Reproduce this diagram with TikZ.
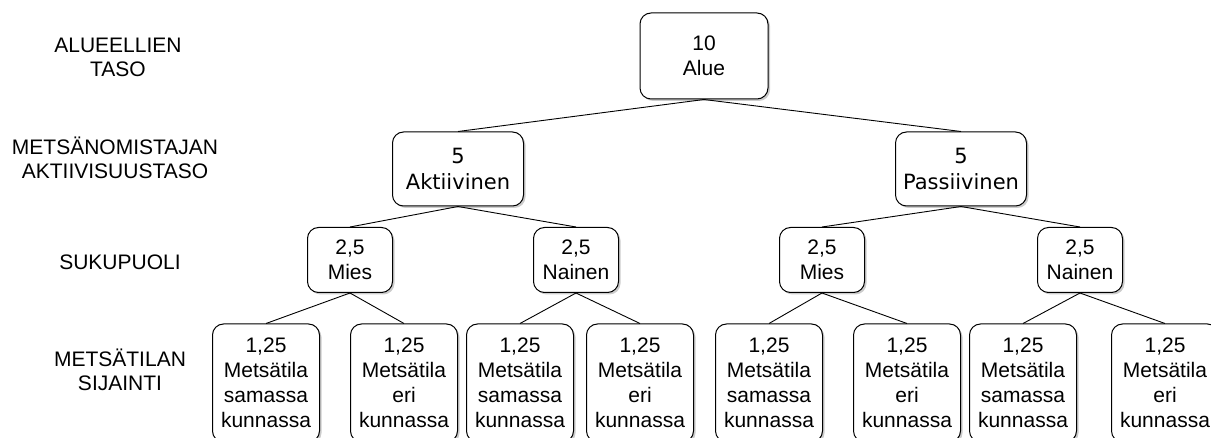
\documentclass[tikz,border=0pt]{standalone}
\usepackage{fontspec}
\setmainfont{Liberation Sans}
\newfontfamily\dejavu{DejaVu Sans}
\usetikzlibrary{shadows}
\definecolor{shade}{RGB}{170,170,170}

\begin{document}
\begin{tikzpicture}[x=1pt,y=-1pt,
	box/.style={draw=black,fill=white,rounded corners=11pt,line width=1pt,align=center,inner sep=0pt,
		drop shadow={shadow xshift=2pt,shadow yshift=-2pt,fill=shade,opacity=0.6},
		font=\fontsize{21}{25}\selectfont},
	lbl/.style={align=center,font=\fontsize{21}{24}\selectfont}]
	\useasboundingbox (0,0) rectangle (1211,438);
	% tasot
	\node[lbl] (t1) at (118,57) {ALUEELLIEN\\TASO};
	\node[lbl] (t2) at (115,158) {METSÄNOMISTAJAN\\AKTIIVISUUSTASO};
	\node[lbl] (t3) at (120,262) {SUKUPUOLI};
	\node[lbl] (t4) at (120,370) {METSÄTILAN\\SIJAINTI};
	% puu
	\node[box,minimum width=128pt,minimum height=86pt] (a) at (704,56) {10\\Alue};
	\node[box,minimum width=131pt,minimum height=74pt,font=\dejavu\fontsize{21}{26}\selectfont] (b1) at (458,169) {5\\Aktiivinen};
	\node[box,minimum width=131pt,minimum height=74pt,font=\dejavu\fontsize{21}{26}\selectfont] (b2) at (961,169) {5\\Passiivinen};
	\node[box,minimum width=85pt,minimum height=65pt] (c1) at (350,260) {2,5\\Mies};
	\node[box,minimum width=85pt,minimum height=65pt] (c2) at (576,260) {2,5\\Nainen};
	\node[box,minimum width=85pt,minimum height=65pt] (c3) at (822,260) {2,5\\Mies};
	\node[box,minimum width=85pt,minimum height=65pt] (c4) at (1080,260) {2,5\\Nainen};
	\node[box,minimum width=107pt,minimum height=118pt] (d1) at (266,383) {1,25\\Metsätila\\samassa\\kunnassa};
	\node[box,minimum width=107pt,minimum height=118pt] (d2) at (404,383) {1,25\\Metsätila\\eri\\kunnassa};
	\node[box,minimum width=107pt,minimum height=118pt] (d3) at (520,383) {1,25\\Metsätila\\samassa\\kunnassa};
	\node[box,minimum width=107pt,minimum height=118pt] (d4) at (640,383) {1,25\\Metsätila\\eri\\kunnassa};
	\node[box,minimum width=107pt,minimum height=118pt] (d5) at (769,383) {1,25\\Metsätila\\samassa\\kunnassa};
	\node[box,minimum width=107pt,minimum height=118pt] (d6) at (907,383) {1,25\\Metsätila\\eri\\kunnassa};
	\node[box,minimum width=107pt,minimum height=118pt] (d7) at (1023,383) {1,25\\Metsätila\\samassa\\kunnassa};
	\node[box,minimum width=107pt,minimum height=118pt] (d8) at (1165,383) {1,25\\Metsätila\\eri\\kunnassa};

	\foreach \x/\y in {a/b1,a/b2,b1/c1,b1/c2,b2/c3,b2/c4,c1/d1,c1/d2,c2/d3,c2/d4,c3/d5,c3/d6,c4/d7,c4/d8}
		\draw[black,line width=0.9pt] (\x.south) -- (\y.north);
\end{tikzpicture}
\end{document}
